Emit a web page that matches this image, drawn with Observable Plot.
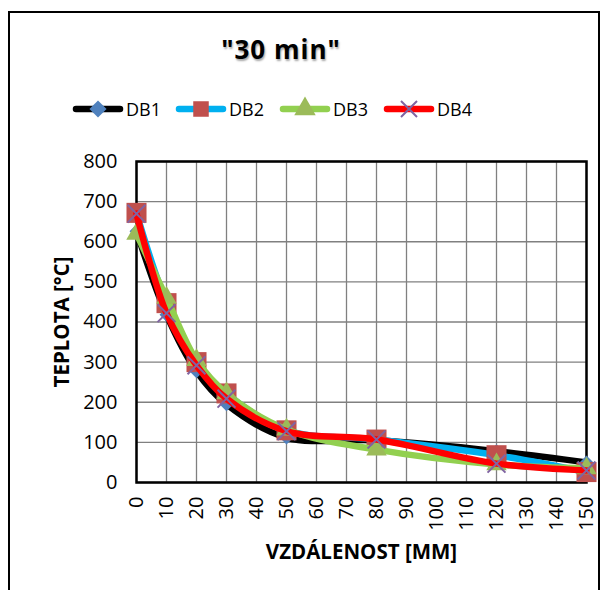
<!DOCTYPE html>
<html>
<head>
<meta charset="utf-8">
<script src="https://cdn.jsdelivr.net/npm/d3@7"></script>
<script src="https://cdn.jsdelivr.net/npm/@observablehq/plot@0.6"></script>
<style>
  html, body { margin: 0; padding: 0; background: #fff; }
  #wrap { position: relative; width: 607px; height: 590px; overflow: hidden; font-family: "Open Sans", sans-serif; }
  #border { position: absolute; left: 8px; top: 11px; width: 592px; height: 600px; border: 2px solid #000; box-sizing: border-box; }
  #title { position: absolute; left: 0; width: 562px; top: 31px; text-align: center; font-weight: bold; font-size: 26px; letter-spacing: 1px; color: #000; text-shadow: 1px 2px 2px rgba(0,0,0,0.35); }
  #legend { position: absolute; top: 96px; left: 0; height: 26px; }
  .item { position: absolute; top: 0; display: flex; align-items: center; font-size: 18px; color: #000; white-space: nowrap; }
  .item svg { display: block; margin-right: 2px; }
  #chart { position: absolute; left: 0; top: 0; }
</style>
</head>
<body>
<div id="wrap">
  <div id="border"></div>
  <div id="title">"30 min"</div>
  <div id="legend"></div>
  <div id="chart"></div>
</div>
<script>
// ---- data ----
const distances = [0, 10, 20, 30, 50, 80, 120, 150];
const seriesNames = ["DB1", "DB2", "DB3", "DB4"];
const DB1 = [626, 418, 277, 195, 112, 105, 78, 50];
const DB2 = [672, 447, 300, 222, 130, 107, 68, 26];
const DB3 = [620, 460, 305, 222, 132, 82, 45, 35];
const DB4 = [670, 422, 292, 209, 128, 107, 47, 30];
const xTicks = [0, 10, 20, 30, 40, 50, 60, 70, 80, 90, 100, 110, 120, 130, 140, 150];
const yTicks = [0, 100, 200, 300, 400, 500, 600, 700, 800];
const xTitle = "VZDÁLENOST [MM]";
const yTitle = "TEPLOTA [°C]";

const lineColors = ["#000000", "#00b0f0", "#92d050", "#ff0000"];
const markerSymbols = ["diamond2", "square", "triangle", "times"];
const markerFill = ["#4f81bd", "#c0504d", "#9bbb59", "none"];
const markerStroke = ["none", "none", "none", "#8064a2"];
const markerR = [6.3, 11.3, 7.6, 8.2];

const valuesBySeries = [DB1, DB2, DB3, DB4];
const table = seriesNames.flatMap((s, i) =>
  distances.map((d, j) => ({series: s, x: d, y: valuesBySeries[i][j]})));

// ---- legend ----
const legend = document.getElementById("legend");
const legendX = [72, 175, 279, 383];
const legendScale = [1.5, 0.6, 1.1, 0.8];
seriesNames.forEach((s, i) => {
  const div = document.createElement("div");
  div.className = "item";
  div.style.left = legendX[i] + "px";
  const ns = "http://www.w3.org/2000/svg";
  const svg = document.createElementNS(ns, "svg");
  svg.setAttribute("width", 52); svg.setAttribute("height", 26);
  const ln = document.createElementNS(ns, "line");
  ln.setAttribute("x1", 4); ln.setAttribute("x2", 48); ln.setAttribute("y1", 13); ln.setAttribute("y2", 13);
  ln.setAttribute("stroke", lineColors[i]); ln.setAttribute("stroke-width", 6.5); ln.setAttribute("stroke-linecap", "round");
  svg.appendChild(ln);
  const sym = {diamond2: d3.symbolDiamond2, square: d3.symbolSquare, triangle: d3.symbolTriangle, times: d3.symbolTimes}[markerSymbols[i]];
  const p = document.createElementNS(ns, "path");
  const sz = Math.PI * markerR[i] * markerR[i] * legendScale[i];
  p.setAttribute("d", d3.symbol(sym, sz)());
  p.setAttribute("transform", "translate(26,13)");
  p.setAttribute("fill", markerFill[i]);
  p.setAttribute("stroke", markerStroke[i]);
  p.setAttribute("stroke-width", 2);
  svg.appendChild(p);
  div.appendChild(svg);
  const t = document.createElement("span");
  t.textContent = s;
  div.appendChild(t);
  legend.appendChild(div);
});

// ---- chart ----
const marks = [
  Plot.gridX(xTicks, {stroke: "#808080", strokeOpacity: 1, strokeWidth: 1.3}),
  Plot.gridY(yTicks, {stroke: "#808080", strokeOpacity: 1, strokeWidth: 1.3}),
  Plot.frame({stroke: "#000", strokeWidth: 2.5}),
  Plot.axisX(xTicks, {tickSize: 0, tickRotate: -90, tickPadding: 14, fontSize: 20, label: null}),
  Plot.axisY(yTicks, {tickSize: 0, tickPadding: 19, fontSize: 20, label: null}),
  Plot.text([xTitle], {frameAnchor: "bottom", dy: 62, lineAnchor: "top", textAnchor: "middle", text: d => d, fontSize: 20.5, fontWeight: "bold"}),
  Plot.text([yTitle], {frameAnchor: "left", dx: -74, rotate: -90, lineAnchor: "middle", textAnchor: "middle", text: d => d, fontSize: 20.5, fontWeight: "bold"})
];
seriesNames.forEach((s, i) => {
  const rows = table.filter(d => d.series === s);
  marks.push(Plot.line(rows, {x: "x", y: "y", stroke: lineColors[i], strokeWidth: 6.5, curve: "catmull-rom", strokeLinecap: "round", strokeLinejoin: "round"}));
  marks.push(Plot.dot(rows, {x: "x", y: "y", symbol: markerSymbols[i], r: markerR[i], fill: markerFill[i], stroke: markerStroke[i], strokeWidth: 2}));
});

const chart = Plot.plot({
  width: 607,
  height: 590,
  marginTop: 161,
  marginBottom: 108,
  marginLeft: 136,
  marginRight: 21,
  style: {background: "transparent", fontFamily: "Open Sans, sans-serif", color: "#000"},
  x: {domain: [0, 150]},
  y: {domain: [0, 800]},
  marks
});
document.getElementById("chart").appendChild(chart);
</script>
</body>
</html>
